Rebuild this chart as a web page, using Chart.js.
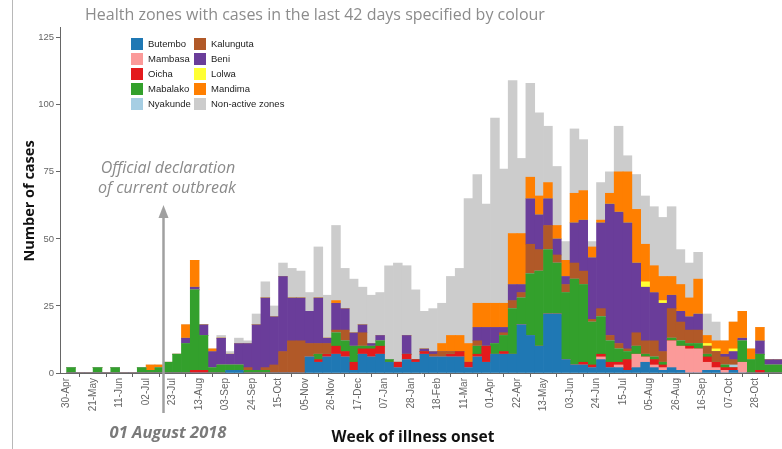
<!DOCTYPE html>
<html>
<head>
<meta charset="utf-8">
<title>Weekly cases by health zone</title>
<script src="https://cdn.jsdelivr.net/npm/chart.js@4.4.1/dist/chart.umd.min.js"></script>
<style>
  html, body { margin: 0; padding: 0; background: #fff; }
  #wrap { position: relative; width: 782px; height: 449px; overflow: hidden; }
  #edge { position: absolute; left: 12px; top: 0; width: 1px; height: 449px; background: #b8b8b8; }
</style>
</head>
<body>
<div id="wrap">
  <canvas id="chart" width="782" height="449"></canvas>
  <div id="edge"></div>
</div>
<script>
// week 0 = week of 30-Apr-2018, one bar per week
const tickWeeks = [0, 3, 6, 9, 12, 15, 18, 21, 24, 27, 30, 33, 36, 39, 42, 45, 48, 51, 54, 57, 60, 63, 66, 69, 72, 75, 78];
const tickLabels = ['30-Apr', '21-May', '11-Jun', '02-Jul', '23-Jul', '13-Aug', '03-Sep', '24-Sep', '15-Oct',
  '05-Nov', '26-Nov', '17-Dec', '07-Jan', '28-Jan', '18-Feb', '11-Mar', '01-Apr', '22-Apr', '13-May',
  '03-Jun', '24-Jun', '15-Jul', '05-Aug', '26-Aug', '16-Sep', '07-Oct', '28-Oct'];
const yTicks = [0, 25, 50, 75, 100, 125];

const butembo = [0,0,0,0,0,0,0,0,0,0, 0,0,0,0,0,0,0,0,1,1, 0,0,0,0,0,0,0,6,4,6,
  7,6,1,7,6,7,4,2,5,4, 7,6,6,6,6,2,6,4,7,7, 7,18,14,10,22,22,5,3,3,2,
  5,2,2,1,2,4,2,1,2,1, 0,0,1,1,0,1,0,0,0,0, 0];
const mambasa = [0,0,0,0,0,0,0,0,0,0, 0,0,0,0,0,0,0,0,0,0, 0,0,0,0,0,0,0,0,0,0,
  0,0,0,0,0,0,0,0,0,0, 0,0,0,0,0,0,0,0,0,0, 0,0,0,0,0,0,0,0,0,0,
  1,0,1,0,5,2,1,1,10,9, 9,9,3,1,1,0,4,0,0,0, 0];
const oicha = [0,0,0,0,0,0,0,0,0,0, 0,0,0,0,1,1,0,0,0,0, 0,0,0,0,0,0,0,0,1,1,
  3,2,3,2,3,3,0,2,2,1, 1,0,0,1,2,2,1,6,0,1, 0,0,0,0,0,0,0,0,1,1,
  1,2,1,4,0,0,2,1,0,0, 1,0,2,2,1,1,0,0,1,0, 0];
const mabalako = [2,0,0,2,0,2,0,0,2,1, 2,4,7,11,30,13,2,3,2,2, 1,1,1,0,0,0,0,0,2,0,
  5,4,6,1,1,2,1,0,0,0, 0,0,0,0,0,0,3,0,4,6, 17,10,23,28,24,19,25,32,29,16,
  14,8,5,3,3,1,1,1,1,2, 1,2,1,0,1,0,8,5,6,3, 3];
const nyakunde = [0,0,0,0,0,0,0,0,0,0, 0,0,0,0,0,0,0,0,0,0, 0,0,0,0,0,0,0,0,0,0,
  0,0,0,0,0,0,0,0,0,0, 0,0,0,0,0,0,0,0,0,0, 0,0,0,0,0,0,0,0,0,0,
  0,0,0,0,0,0,0,0,0,0, 0,0,0,0,0,1,0,0,0,0, 0];
const kalunguta = [0,0,0,0,0,0,0,0,0,0, 0,0,0,0,0,0,0,0,0,0, 1,0,1,3,8,12,12,5,4,4,
  1,4,0,5,0,0,0,0,0,0, 0,1,2,1,0,0,2,0,0,1, 3,2,11,8,9,3,3,6,5,1,
  3,2,2,1,5,5,6,4,11,7, 5,5,3,4,3,2,0,0,0,0, 0];
const beni = [0,0,0,0,0,0,0,0,0,0, 0,0,0,2,1,4,6,10,4,8, 9,17,26,18,28,16,16,12,17,2,
  10,8,5,3,1,2,0,0,7,0, 1,1,0,0,0,0,5,7,6,2, 6,3,17,13,10,6,3,15,19,23,
  32,49,49,47,26,20,18,18,5,4, 5,6,0,0,1,3,1,0,5,2, 2];
const lolwa = [0,0,0,0,0,0,0,0,0,0, 0,0,0,0,0,0,0,0,0,0, 0,0,0,0,0,0,0,0,0,0,
  0,0,0,0,0,0,0,0,0,0, 0,0,0,0,0,0,0,0,0,0, 0,0,0,0,0,0,0,0,0,0,
  0,0,0,0,0,2,0,1,0,0, 0,0,1,1,0,1,0,0,0,0, 0];
const mandima = [0,0,0,0,0,0,0,0,0,2, 1,0,0,5,10,0,1,0,0,0, 0,0,0,0,0,0,0,0,0,0,
  1,0,0,0,0,0,0,0,0,0, 0,0,3,6,6,7,9,9,9,9, 19,19,8,7,6,5,6,11,11,4,
  1,4,15,19,20,14,10,9,7,10, 7,13,3,3,5,10,10,4,5,0, 0];
const nonActive = [0,0,0,0,0,0,0,0,0,0, 0,0,0,0,0,0,0,1,1,2, 1,4,6,4,5,11,10,7,19,16,
  28,15,20,14,18,16,35,37,26,26, 14,16,15,22,25,54,48,37,69,50, 57,28,35,31,21,22,7,24,19,2,
  14,8,17,6,13,18,22,22,26,13, 13,10,8,7,0,0,0,0,0,0, 0];

const zones = ['Butembo', 'Mambasa', 'Oicha', 'Mabalako', 'Nyakunde',
  'Kalunguta', 'Beni', 'Lolwa', 'Mandima', 'Non-active zones'];
const zoneColors = ['#1f78b4', '#fb9a99', '#e31a1c', '#33a02c', '#a6cee3',
  '#b15928', '#6a3d9a', '#ffff33', '#ff7f00', '#cccccc'];
const zoneCounts = [butembo, mambasa, oicha, mabalako, nyakunde, kalunguta, beni, lolwa, mandima, nonActive];

// week (x value) where the outbreak was declared
const declarationWeek = 10.87;

const datasets = zones.map(function (name, k) {
  return {
    label: name,
    data: zoneCounts[k].map(function (v, w) { return { x: w + 0.5, y: v }; }),
    backgroundColor: zoneColors[k],
    borderWidth: 0,
    stack: 'all',
    barPercentage: 1,
    categoryPercentage: 1
  };
});

const overlay = {
  id: 'overlay',
  afterDraw(chart) {
    const ctx = chart.ctx;
    const xs = chart.scales.x;
    ctx.save();

    // heading
    ctx.fillStyle = '#8c8c8c';
    ctx.font = '16px "Open Sans"';
    ctx.textAlign = 'left';
    ctx.textBaseline = 'middle';
    ctx.fillText('Health zones with cases in the last 42 days specified by colour', 85, 15);

    // axis titles
    ctx.fillStyle = '#111';
    ctx.font = 'bold 15.5px "Open Sans"';
    ctx.textAlign = 'center';
    ctx.fillText('Week of illness onset', 413, 438);
    ctx.save();
    ctx.translate(30, 201);
    ctx.rotate(-Math.PI / 2);
    ctx.font = 'bold 14.5px "Open Sans"';
    ctx.fillText('Number of cases', 0, 0);
    ctx.restore();

    // declaration marker
    const lx = Math.round(xs.getPixelForValue(declarationWeek)) + 0.5;
    ctx.strokeStyle = '#a0a0a0';
    ctx.fillStyle = '#a0a0a0';
    ctx.lineWidth = 2.5;
    ctx.beginPath();
    ctx.moveTo(lx, 216);
    ctx.lineTo(lx, 413);
    ctx.stroke();
    ctx.beginPath();
    ctx.moveTo(lx, 205);
    ctx.lineTo(lx - 5, 218);
    ctx.lineTo(lx + 5, 218);
    ctx.closePath();
    ctx.fill();

    ctx.fillStyle = '#8a8a8a';
    ctx.font = 'italic 16px "Open Sans"';
    ctx.fillText('Official declaration', 168, 168);
    ctx.fillText('of current outbreak', 167, 188);
    ctx.fillStyle = '#7a7a7a';
    ctx.font = 'italic bold 16.5px "Open Sans"';
    ctx.fillText('01 August 2018', 168, 433);

    // legend, two columns
    ctx.font = '9.5px "Liberation Sans"';
    ctx.textAlign = 'left';
    chart.data.datasets.forEach(function (ds, k) {
      const col = Math.floor(k / 5), row = k % 5;
      const sx = col === 0 ? 131 : 194;
      const sy = 38 + row * 15;
      ctx.fillStyle = ds.backgroundColor;
      ctx.fillRect(sx, sy, 12, 12);
      ctx.fillStyle = '#222';
      ctx.fillText(ds.label, sx + 17, sy + 6.5);
    });
    ctx.restore();
  }
};

new Chart(document.getElementById('chart'), {
  type: 'bar',
  data: { datasets: datasets },
  options: {
    responsive: false,
    animation: false,
    devicePixelRatio: 1,
    layout: { padding: { left: 0, right: 0, top: 27, bottom: 0 } },
    plugins: { legend: { display: false }, tooltip: { enabled: false } },
    scales: {
      x: {
        type: 'linear',
        stacked: true,
        min: -0.75,
        max: 81,
        offset: false,
        afterBuildTicks: function (scale) {
          scale.ticks = tickWeeks.map(function (w) { return { value: w }; });
        },
        afterFit: function (scale) { scale.height = 76; },
        ticks: {
          autoSkip: false,
          minRotation: 90,
          maxRotation: 90,
          padding: 1,
          color: '#666',
          font: { family: 'Liberation Sans', size: 10 },
          callback: function (value) {
            const k = tickWeeks.indexOf(value);
            return k >= 0 ? tickLabels[k] : '';
          }
        },
        grid: { drawOnChartArea: false, drawTicks: true, tickLength: 4, color: '#666' },
        border: { display: true, color: '#666', width: 1 }
      },
      y: {
        stacked: true,
        min: 0,
        max: 129,
        afterBuildTicks: function (scale) {
          scale.ticks = yTicks.map(function (v) { return { value: v }; });
        },
        afterFit: function (scale) { scale.width = 60; },
        ticks: {
          padding: 2,
          color: '#666',
          font: { family: 'Liberation Sans', size: 9.5 }
        },
        grid: { drawOnChartArea: false, drawTicks: true, tickLength: 4, color: '#666' },
        border: { display: true, color: '#666', width: 1 }
      }
    }
  },
  plugins: [overlay]
});
</script>
</body>
</html>
